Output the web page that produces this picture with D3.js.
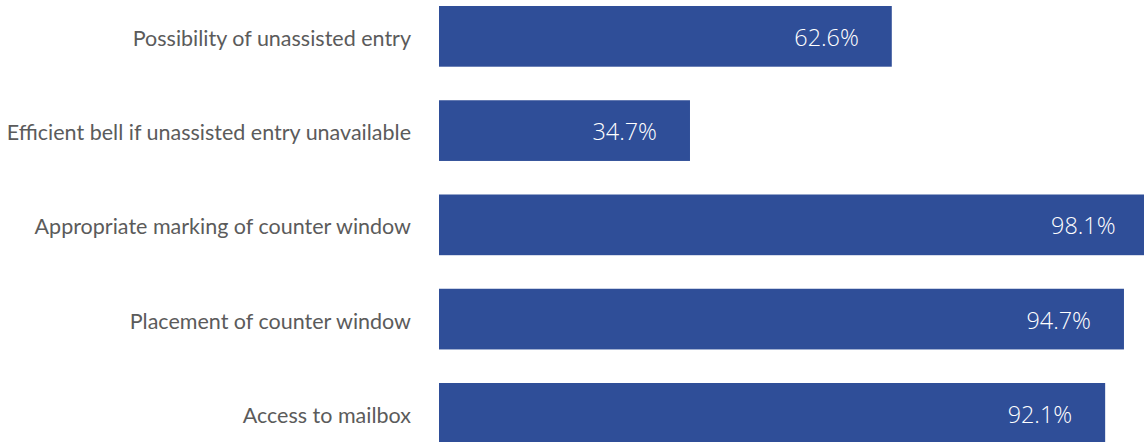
<!DOCTYPE html>
<html><head><meta charset="utf-8">
<script src="https://cdn.jsdelivr.net/npm/d3@7"></script>
<style>
html,body{margin:0;padding:0;background:#fff;overflow:hidden;}
svg{display:block;}
</style></head>
<body>
<svg id="chart" width="1144" height="442"></svg>
<script>
const categories = [
  "Possibility of unassisted entry",
  "Efficient bell if unassisted entry unavailable",
  "Appropriate marking of counter window",
  "Placement of counter window",
  "Access to mailbox"
];
const values = [62.6, 34.7, 98.1, 94.7, 92.1];

const svg = d3.select("#chart");
const x = d3.scaleLinear().domain([0, 100]).range([439, 1162.3]);
const y = d3.scaleBand().domain(categories).range([6, 443.7]).paddingInner(0.356).paddingOuter(0);

const data = categories.map((c, i) => ({c, v: values[i]}));

svg.selectAll("rect.bar").data(data).join("rect")
  .attr("class", "bar")
  .attr("x", x(0))
  .attr("y", d => y(d.c))
  .attr("width", d => x(d.v) - x(0))
  .attr("height", y.bandwidth())
  .attr("fill", "#2f4e98");

svg.selectAll("text.cat").data(data).join("text")
  .attr("class", "cat")
  .attr("x", 411)
  .attr("y", d => y(d.c) + y.bandwidth() / 2 + 9.4)
  .attr("text-anchor", "end")
  .attr("fill", "#5b5b5b")
  .style("font-family", "Lato, 'Noto Sans', sans-serif")
  .style("font-size", "21.5px")
  .text(d => d.c);

const vals = svg.selectAll("text.val").data(data).join("text")
  .attr("class", "val")
  .attr("x", d => x(d.v) - 33)
  .attr("y", d => y(d.c) + y.bandwidth() / 2 + 9.6)
  .attr("text-anchor", "end")
  .attr("fill", "#ffffff")
  .style("font-family", "'Open Sans', sans-serif")
  .style("font-weight", "300")
  .style("font-size", "24.5px")
  .text(d => d.v.toFixed(1) + "%");

// condense value labels to match the narrow face of the original
const ref = vals.nodes()[0].getComputedTextLength();
const k = 64.5 / ref;
vals.each(function() {
  const w = this.getComputedTextLength();
  d3.select(this).attr("textLength", w * k).attr("lengthAdjust", "spacingAndGlyphs");
});
</script>
</body></html>
